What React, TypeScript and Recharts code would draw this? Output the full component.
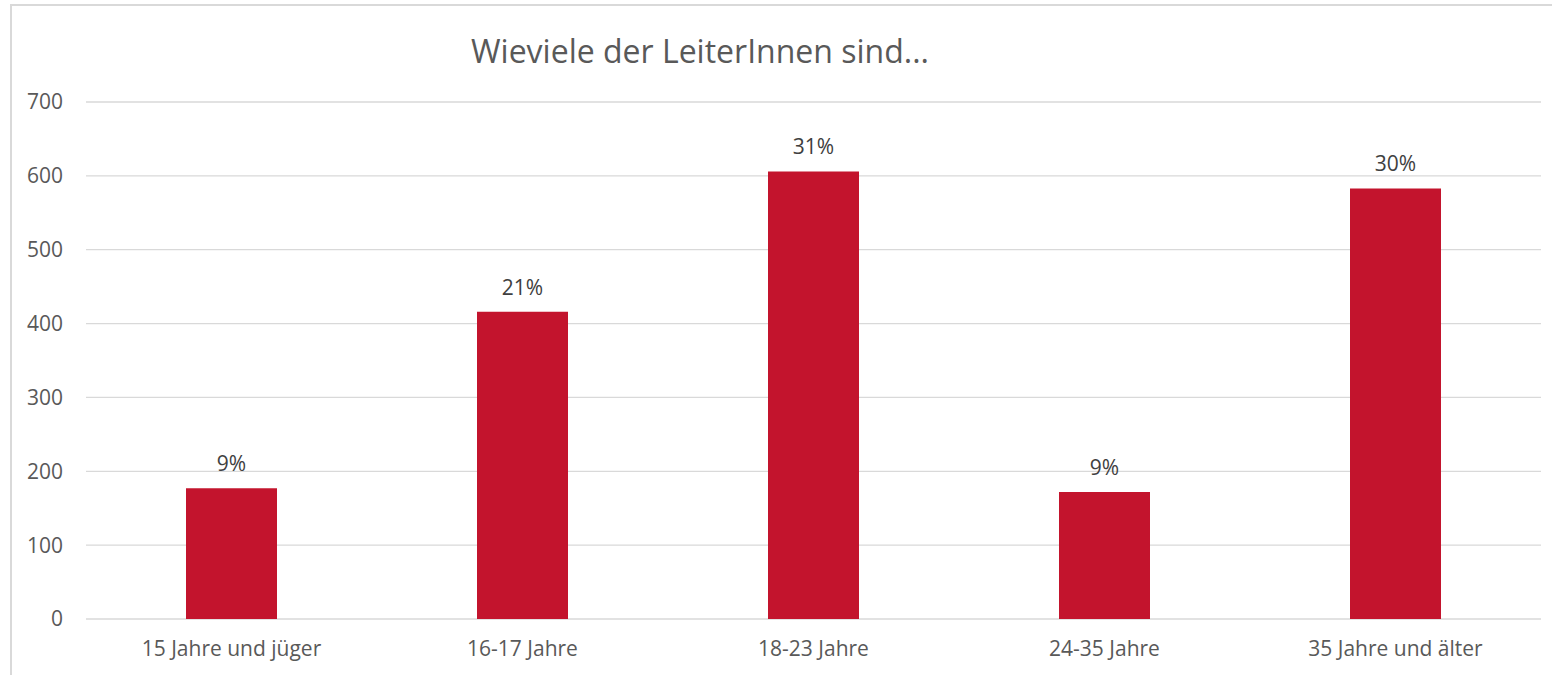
import { BarChart, Bar, XAxis, YAxis, CartesianGrid, LabelList } from 'recharts'

const categories = ['15 Jahre und jüger', '16-17 Jahre', '18-23 Jahre', '24-35 Jahre', '35 Jahre und älter']
const counts = [177, 416, 606, 172, 583]
const shares = ['9%', '21%', '31%', '9%', '30%']
const yTicks = [0, 100, 200, 300, 400, 500, 600, 700]

const FONT = "'Open Sans', sans-serif"
const FRAME = '#d9d9d9'

export default function App() {
  const data = categories.map((name, i) => ({ name, count: counts[i], share: shares[i] }))

  return (
    <div style={{ position: 'absolute', left: 0, top: 0, width: 1552, height: 675, overflow: 'hidden', background: '#fff', fontFamily: FONT }}>
      {/* chart frame: only the top and left edges fall inside the picture */}
      <div style={{ position: 'absolute', left: 10, top: 4, width: 1542, height: 2, background: FRAME }} />
      <div style={{ position: 'absolute', left: 10, top: 4, width: 2, height: 671, background: FRAME }} />
      <div
        style={{
          position: 'absolute',
          left: 300,
          top: 35,
          width: 800,
          textAlign: 'center',
          fontSize: 32,
          lineHeight: 1,
          color: '#595959',
        }}
      >
        Wieviele der LeiterInnen sind...
      </div>
      <div style={{ position: 'absolute', left: 0, top: 0 }}>
        <BarChart
          width={1552}
          height={675}
          data={data}
          margin={{ top: 102, right: 11, left: 0, bottom: 0 }}
          barSize={91}
          accessibilityLayer={false}
        >
          <CartesianGrid vertical={false} stroke="#d9d9d9" strokeWidth={1.3} />
          <XAxis
            dataKey="name"
            axisLine={false}
            tickLine={false}
            tickSize={0}
            tickMargin={22}
            height={56}
            tick={{ fontSize: 21, fill: '#595959', fontFamily: FONT }}
            interval={0}
          />
          <YAxis
            domain={[0, 700]}
            ticks={yTicks}
            axisLine={false}
            tickLine={false}
            tickSize={0}
            tickMargin={23}
            width={86}
            tick={{ fontSize: 21, fill: '#595959', fontFamily: FONT }}
          />
          <Bar dataKey="count" fill="#c3142d" isAnimationActive={false}>
            <LabelList
              dataKey="share"
              position="top"
              offset={17}
              style={{ fontSize: 21, fill: '#404040', fontFamily: FONT }}
            />
          </Bar>
        </BarChart>
      </div>
    </div>
  )
}
